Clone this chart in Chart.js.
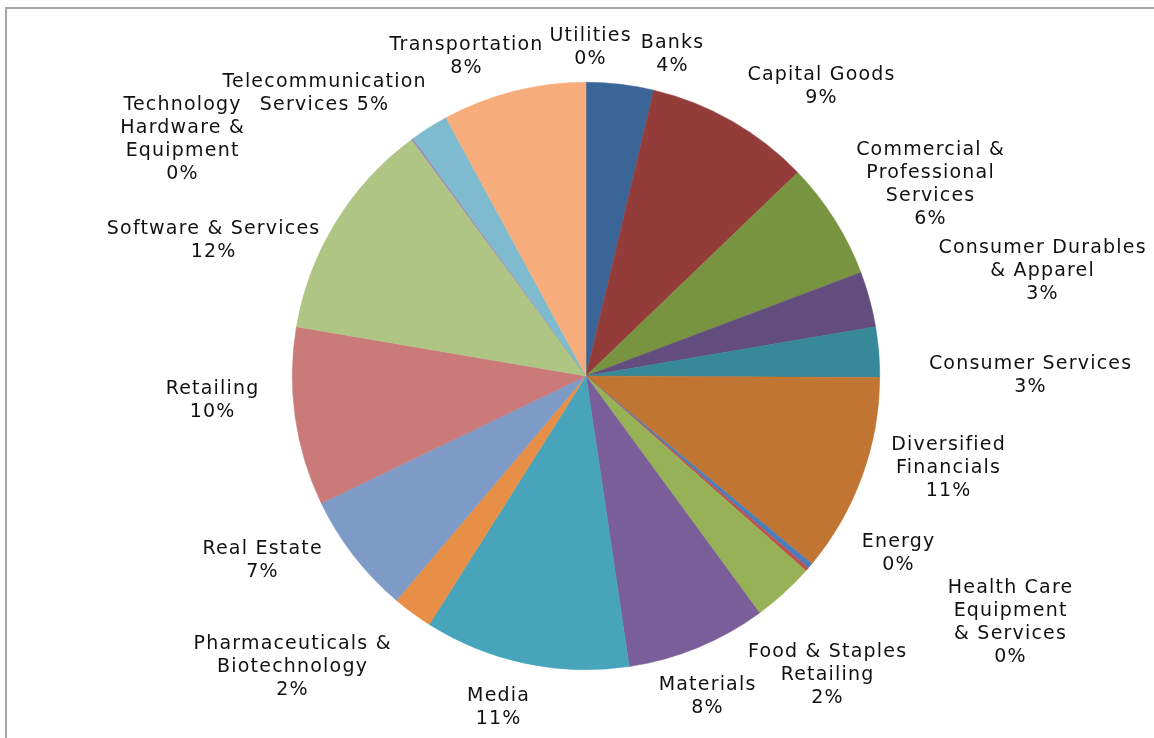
<!DOCTYPE html>
<html lang="en">
<head>
<meta charset="UTF-8">
<title>Sector weights</title>
<script src="https://cdn.jsdelivr.net/npm/chart.js"></script>
<style>
  html, body { margin: 0; padding: 0; background: #fff; }
  #wrap { position: relative; width: 1154px; height: 738px; }
</style>
</head>
<body>
<div id="wrap"><canvas id="sectorChart"></canvas></div>

<script>
    // sectors, clockwise from 12 o'clock
    const sectors = [
        'Banks', 'Capital Goods', 'Commercial & Professional Services',
        'Consumer Durables & Apparel', 'Consumer Services', 'Diversified Financials',
        'Energy', 'Health Care Equipment & Services', 'Food & Staples Retailing',
        'Materials', 'Media', 'Pharmaceuticals & Biotechnology', 'Real Estate',
        'Retailing', 'Software & Services', 'Technology Hardware & Equipment',
        'Telecommunication Services', 'Transportation', 'Utilities'
    ];

    // slice sizes (% of the circle)
    const weights = [3.7, 9.1, 6.45, 3.05, 2.75, 10.95, 0.3, 0.2, 3.4,
                     7.7, 11.3, 2.2, 6.7, 9.8, 12.2, 0.1, 2.1, 7.9, 0];

    // percentages as printed in the labels
    const shownPct = [4, 9, 6, 3, 3, 11, 0, 0, 2, 8, 11, 2, 7, 10, 12, 0, 5, 8, 0];

    const sliceColors = [
        '#3b6597', '#943c3a', '#789440', '#634d7e', '#378899', '#c17533',
        '#4a7ebb', '#c0504d', '#97b256', '#7a5e99', '#47a4bb', '#e78f46',
        '#7d9bc6', '#ca7b79', '#aec584', '#9c88b8', '#7fbbcf', '#f7ac7b', '#3b6597'
    ];

    // how the label text is broken into lines (last line gets the %)
    const labelLines = [
        ['Banks'], ['Capital Goods'], ['Commercial &', 'Professional', 'Services'],
        ['Consumer Durables', '& Apparel'], ['Consumer Services'], ['Diversified', 'Financials'],
        ['Energy'], ['Health Care', 'Equipment', '& Services'], ['Food & Staples', 'Retailing'],
        ['Materials'], ['Media'], ['Pharmaceuticals &', 'Biotechnology'], ['Real Estate'],
        ['Retailing'], ['Software & Services'], ['Technology', 'Hardware &', 'Equipment'],
        ['Telecommunication', 'Services'], ['Transportation'], ['Utilities']
    ];
    // which labels keep the % on the same line as the last word
    const pctInline = [16];

    // label placement: centre of the text block, offset from the pie centre (px)
    const labelOffsets = [
        [86, -321], [235, -289], [344, -191], [456, -105], [444, 0], [362, 92],
        [312, 178], [424, 247], [241, 299], [121, 321], [-88, 332], [-294, 291],
        [-324, 185], [-374, 25], [-373, -135], [-404, -236], [-262, -282], [-120, -319], [4, -328]
    ];

    const framePlugin = {
        id: 'frame',
        beforeDraw(chart) {
            const ctx = chart.ctx;
            ctx.save();
            ctx.fillStyle = '#a6a6a6';
            ctx.fillRect(5, 7, chart.width - 5, 2);
            ctx.fillRect(5, 7, 2, chart.height - 7);
            ctx.restore();
        }
    };

    const pieLabels = {
        id: 'pieLabels',
        afterDraw(chart) {
            const ctx = chart.ctx;
            const arc = chart.getDatasetMeta(0).data[0];
            const cx = arc.x, cy = arc.y;
            const lineH = 23;
            ctx.save();
            ctx.font = '19px "DejaVu Sans"';
            ctx.letterSpacing = '1.2px';
            ctx.fillStyle = '#111';
            ctx.textAlign = 'center';
            ctx.textBaseline = 'middle';
            labelLines.forEach((lines, i) => {
                const txt = lines.slice();
                if (pctInline.includes(i)) {
                    txt[txt.length - 1] += ' ' + shownPct[i] + '%';
                } else {
                    txt.push(shownPct[i] + '%');
                }
                const [ox, oy] = labelOffsets[i];
                const top = cy + oy - (txt.length - 1) * lineH / 2;
                txt.forEach((t, k) => ctx.fillText(t, cx + ox + 0.6, top + k * lineH));
            });
            ctx.restore();
        }
    };

    new Chart(document.getElementById('sectorChart'), {
        type: 'pie',
        data: {
            labels: sectors,
            datasets: [{
                data: weights,
                backgroundColor: sliceColors,
                borderColor: sliceColors,
                borderWidth: 0.5
            }]
        },
        options: {
            responsive: true,
            maintainAspectRatio: false,
            animation: false,
            events: [],
            layout: { padding: { left: 18, right: 0, top: 82, bottom: 68 } },
            plugins: {
                legend: { display: false },
                tooltip: { enabled: false }
            }
        },
        plugins: [framePlugin, pieLabels]
    });
</script>
</body>
</html>
